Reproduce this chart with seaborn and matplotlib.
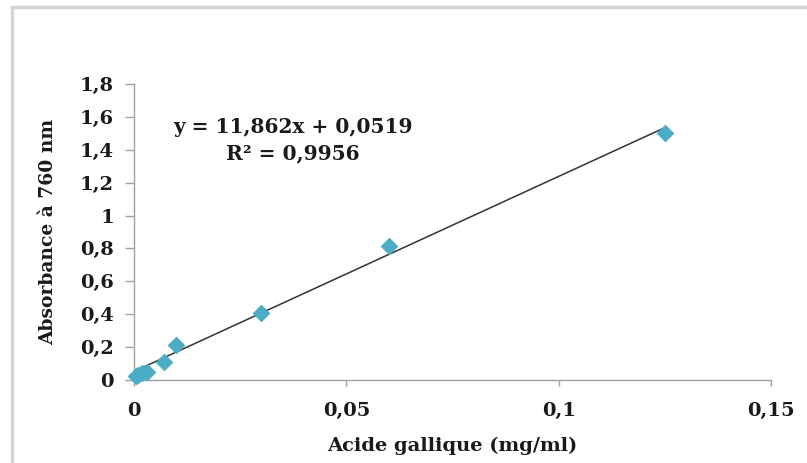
import matplotlib
matplotlib.use("Agg")
import matplotlib.pyplot as plt
import matplotlib.patches as patches
import seaborn as sns
import numpy as np
import pandas as pd

# calibration points (mg/ml, absorbance)
conc = [0.0005, 0.001, 0.002, 0.003, 0.007, 0.01, 0.03, 0.06, 0.125]
absorb = [0.025, 0.03, 0.04, 0.05, 0.11, 0.21, 0.41, 0.815, 1.505]
slope = 11.862
intercept = 0.0519
x_ticks = [0, 0.05, 0.1, 0.15]
x_tick_labels = ["0", "0,05", "0,1", "0,15"]
y_ticks = [0, 0.2, 0.4, 0.6, 0.8, 1, 1.2, 1.4, 1.6, 1.8]
y_tick_labels = ["0", "0,2", "0,4", "0,6", "0,8", "1", "1,2", "1,4", "1,6", "1,8"]

df = pd.DataFrame({"conc": conc, "abs": absorb})
line_x = np.array([0, max(conc)])
line_df = pd.DataFrame({"x": line_x, "y": slope * line_x + intercept})

sns.set_style("white")
plt.rcParams["font.family"] = ["DejaVu Serif", "Liberation Serif"]
plt.rcParams["font.weight"] = "bold"
plt.rcParams["text.color"] = "#1a1a1a"
plt.rcParams["axes.labelcolor"] = "#1a1a1a"
plt.rcParams["xtick.color"] = "#1a1a1a"
plt.rcParams["ytick.color"] = "#1a1a1a"

fig = plt.figure(figsize=(8.07, 4.63), dpi=100)
ax = fig.add_axes([134 / 807, 1 - 380 / 463, (771 - 134) / 807, (380 - 84) / 463])

# outer chart border (gray, cut off at right/bottom)
fig.patches.append(patches.Rectangle((12 / 807, -0.1), 1.2, 1 - 7 / 463 + 0.1,
                                     transform=fig.transFigure, fill=False,
                                     edgecolor="#d4d4d4", linewidth=2.5))

sns.lineplot(data=line_df, x="x", y="y", ax=ax, color="#333333", linewidth=1.1, zorder=2)
sns.scatterplot(data=df, x="conc", y="abs", ax=ax, marker="D", s=70,
                color="#4bacc6", edgecolor="#4bacc6", zorder=3, clip_on=False)

ax.set_xlim(0, 0.15)
ax.set_ylim(0, 1.8)
ax.set_xticks(x_ticks)
ax.set_xticklabels(x_tick_labels)
ax.set_yticks(y_ticks)
ax.set_yticklabels(y_tick_labels)
ax.tick_params(axis="both", direction="out", color="#a0a0a0", labelsize=14, width=1,
               left=True, bottom=True)
ax.tick_params(axis="x", length=4, pad=12)
ax.tick_params(axis="y", length=6.5, pad=8)
for lab in ax.get_xticklabels() + ax.get_yticklabels():
    lab.set_fontweight("bold")

for s in ["top", "right"]:
    ax.spines[s].set_visible(False)
for s in ["left", "bottom"]:
    ax.spines[s].set_color("#a0a0a0")
    ax.spines[s].set_linewidth(1)

ax.set_xlabel("Acide gallique (mg/ml)", fontsize=14, fontweight="bold", labelpad=12)
ax.set_ylabel("Absorbance à 760 nm", fontsize=13.5, fontweight="bold", labelpad=16)

ax.text(0.0374, 1.539, "y = 11,862x + 0,0519", fontsize=14.5, fontweight="bold",
        ha="center", va="center")
ax.text(0.0374, 1.381, "R² = 0,9956", fontsize=14.5, fontweight="bold",
        ha="center", va="center")

fig.savefig("out.png", dpi=100)
